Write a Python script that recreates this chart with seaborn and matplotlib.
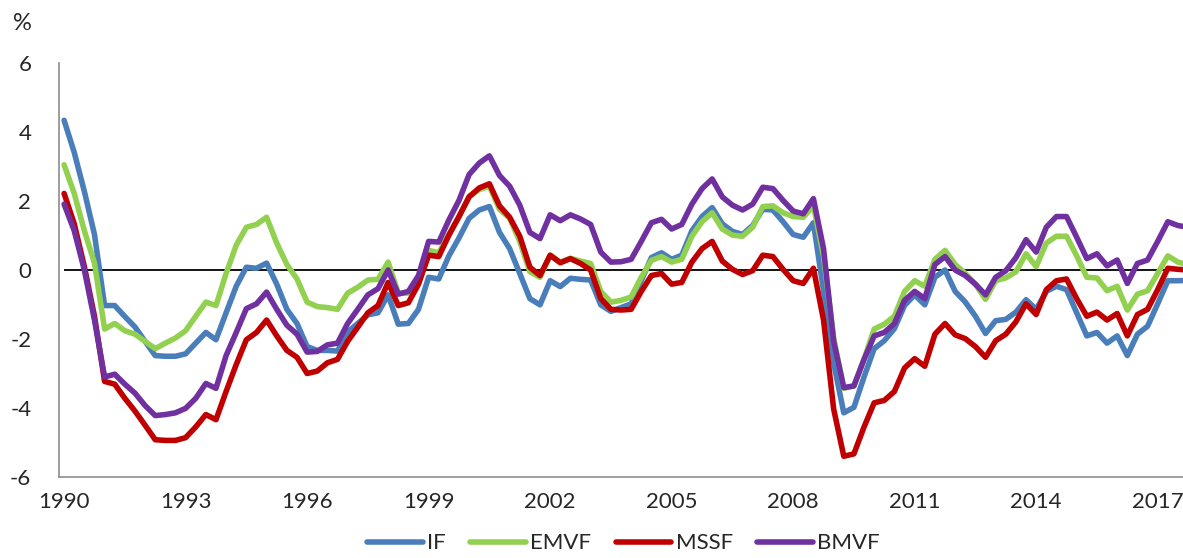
import numpy as np
import pandas as pd
import matplotlib
matplotlib.use("Agg")
import matplotlib.pyplot as plt
import seaborn as sns

# quarterly data, 1990Q1 .. 2017Q4
years = [1990, 1993, 1996, 1999, 2002, 2005, 2008, 2011, 2014, 2017]

IF = [4.34, 3.41, 2.28, 1.03, -1.03, -1.03, -1.35, -1.65, -2.07, -2.48, -2.5, -2.5,
      -2.43, -2.12, -1.81, -2.02, -1.24, -0.47, 0.08, 0.05, 0.2, -0.41, -1.14, -1.55,
      -2.22, -2.33, -2.33, -2.35, -1.8, -1.55, -1.3, -1.24, -0.72, -1.57, -1.55, -1.14,
      -0.21, -0.26, 0.41, 0.93, 1.5, 1.74, 1.84, 1.09, 0.62, -0.1, -0.83, -1.01,
      -0.31, -0.48, -0.24, -0.27, -0.29, -1.01, -1.2, -1.09, -0.98, -0.31, 0.36, 0.5,
      0.31, 0.43, 1.14, 1.55, 1.81, 1.34, 1.12, 1.03, 1.29, 1.76, 1.74, 1.4,
      1.03, 0.95, 1.37, -0.6, -2.7, -4.14, -3.98, -3.1, -2.28, -2.05, -1.7, -1.03,
      -0.72, -1.01, -0.21, 0.0, -0.62, -0.93, -1.34, -1.84, -1.47, -1.43, -1.22, -0.86,
      -1.14, -0.62, -0.47, -0.57, -1.24, -1.91, -1.81, -2.12, -1.91, -2.48, -1.86, -1.63,
      -0.98, -0.31, -0.31, -0.3]

EMVF = [3.05, 2.22, 1.14, 0.2, -1.71, -1.55, -1.76, -1.86, -2.07, -2.28, -2.12, -1.97,
        -1.76, -1.34, -0.93, -1.03, -0.1, 0.72, 1.24, 1.32, 1.53, 0.78, 0.16, -0.26,
        -0.93, -1.06, -1.09, -1.14, -0.67, -0.5, -0.29, -0.27, 0.23, -0.67, -0.67, -0.21,
        0.57, 0.5, 1.03, 1.55, 2.14, 2.33, 2.43, 1.76, 1.5, 0.83, -0.05, -0.21,
        0.43, 0.23, 0.34, 0.26, 0.19, -0.62, -0.93, -0.88, -0.78, -0.21, 0.28, 0.39,
        0.23, 0.31, 0.98, 1.4, 1.66, 1.19, 1.01, 0.98, 1.24, 1.84, 1.86, 1.66,
        1.55, 1.53, 1.86, 0.41, -1.97, -3.43, -3.36, -2.59, -1.71, -1.57, -1.34, -0.62,
        -0.31, -0.47, 0.31, 0.57, 0.16, -0.1, -0.41, -0.85, -0.31, -0.23, -0.05, 0.47,
        0.1, 0.78, 0.98, 0.98, 0.41, -0.21, -0.23, -0.6, -0.47, -1.16, -0.7, -0.6,
        -0.1, 0.41, 0.23, 0.15]

MSSF = [2.22, 1.34, 0.1, -1.34, -3.23, -3.31, -3.72, -4.09, -4.5, -4.92, -4.94, -4.94,
        -4.86, -4.55, -4.19, -4.34, -3.52, -2.74, -2.02, -1.81, -1.45, -1.91, -2.33, -2.53,
        -3.0, -2.93, -2.69, -2.59, -2.07, -1.66, -1.24, -1.03, -0.36, -1.03, -0.95, -0.41,
        0.43, 0.39, 1.01, 1.55, 2.12, 2.38, 2.5, 1.86, 1.53, 0.98, 0.08, -0.16,
        0.43, 0.21, 0.33, 0.19, 0.0, -0.83, -1.14, -1.16, -1.14, -0.62, -0.16, -0.1,
        -0.41, -0.36, 0.23, 0.62, 0.83, 0.26, 0.02, -0.13, -0.02, 0.43, 0.39, 0.02,
        -0.31, -0.39, 0.05, -1.45, -4.03, -5.4, -5.33, -4.55, -3.85, -3.78, -3.52, -2.84,
        -2.57, -2.79, -1.86, -1.55, -1.88, -1.99, -2.22, -2.53, -2.05, -1.86, -1.5, -0.98,
        -1.29, -0.57, -0.31, -0.26, -0.83, -1.34, -1.22, -1.45, -1.26, -1.91, -1.29, -1.14,
        -0.57, 0.05, 0.02, 0.0]

BMVF = [1.91, 1.14, 0.0, -1.45, -3.1, -3.02, -3.31, -3.57, -3.93, -4.22, -4.19, -4.14,
        -4.01, -3.72, -3.29, -3.43, -2.48, -1.81, -1.12, -0.98, -0.64, -1.14, -1.6, -1.86,
        -2.38, -2.36, -2.17, -2.12, -1.55, -1.14, -0.72, -0.54, 0.0, -0.7, -0.62, -0.16,
        0.83, 0.81, 1.45, 2.02, 2.77, 3.1, 3.31, 2.74, 2.43, 1.88, 1.09, 0.91,
        1.6, 1.43, 1.6, 1.48, 1.32, 0.52, 0.23, 0.24, 0.31, 0.83, 1.37, 1.47,
        1.19, 1.32, 1.91, 2.36, 2.64, 2.12, 1.88, 1.74, 1.91, 2.4, 2.36, 2.02,
        1.71, 1.63, 2.07, 0.62, -2.07, -3.41, -3.36, -2.59, -1.91, -1.81, -1.55, -0.88,
        -0.62, -0.83, 0.16, 0.39, 0.0, -0.16, -0.41, -0.72, -0.21, -0.02, 0.36, 0.88,
        0.52, 1.24, 1.55, 1.55, 0.95, 0.33, 0.47, 0.12, 0.29, -0.39, 0.19, 0.29,
        0.83, 1.4, 1.29, 1.24]

names = ["IF", "EMVF", "MSSF", "BMVF"]
colors = ["#4A7EBB", "#92D050", "#C00000", "#7030A0"]

frames = []
for name, vals in zip(names, [IF, EMVF, MSSF, BMVF]):
    frames.append(pd.DataFrame({"q": np.arange(len(vals)) + 0.5, "val": vals, "series": name}))
df = pd.concat(frames, ignore_index=True)

sns.set_style("white")
plt.rcParams["font.family"] = ["Lato", "DejaVu Sans"]

fig = plt.figure(figsize=(11.83, 5.58), dpi=100)
ax = fig.add_axes([0.0499, 0.1452, 0.9501, 0.7418])

ax.hlines(0, 0.5, 115, color="black", lw=1.3, zorder=1)
sns.lineplot(data=df, x="q", y="val", hue="series", hue_order=names,
             palette=colors, lw=4.0, ax=ax, legend=False, zorder=3)

ax.set_xlim(0, 111.0)
ax.set_ylim(-6, 6)
ax.set_yticks([-6, -4, -2, 0, 2, 4, 6])
ax.set_yticklabels(["-6", "-4", "-2", "0", "2", "4", "6"], fontsize=16)
ax.set_xticks(np.arange(0, 112, 12))
ax.set_xticklabels([])
ax.set_xticks(np.arange(len(years)) * 12 + 0.5, minor=True)
ax.set_xticklabels([str(y) for y in years], minor=True, fontsize=16)
ax.tick_params(axis="x", which="major", length=7, width=1.2, color="#8c8c8c", direction="out")
ax.tick_params(axis="x", which="minor", length=0, pad=11)
ax.tick_params(axis="y", length=7, width=1.2, color="#8c8c8c", direction="out", pad=13)
ax.set_xlabel("")
ax.set_ylabel("")

for s in ["top", "right"]:
    ax.spines[s].set_visible(False)
for s in ["left", "bottom"]:
    ax.spines[s].set_color("#8c8c8c")
    ax.spines[s].set_linewidth(1.2)

fig.text(0.0186, 0.958, "%", fontsize=17, ha="center", va="center")

handles = [plt.Line2D([], [], color=c, lw=4.0) for c in colors]
fig.legend(handles, names, loc="center", bbox_to_anchor=(0.527, 0.026), ncol=4,
           frameon=False, fontsize=16, handlelength=2.5, handletextpad=0.2,
           columnspacing=1.1)

fig.savefig("out.png", dpi=100)
